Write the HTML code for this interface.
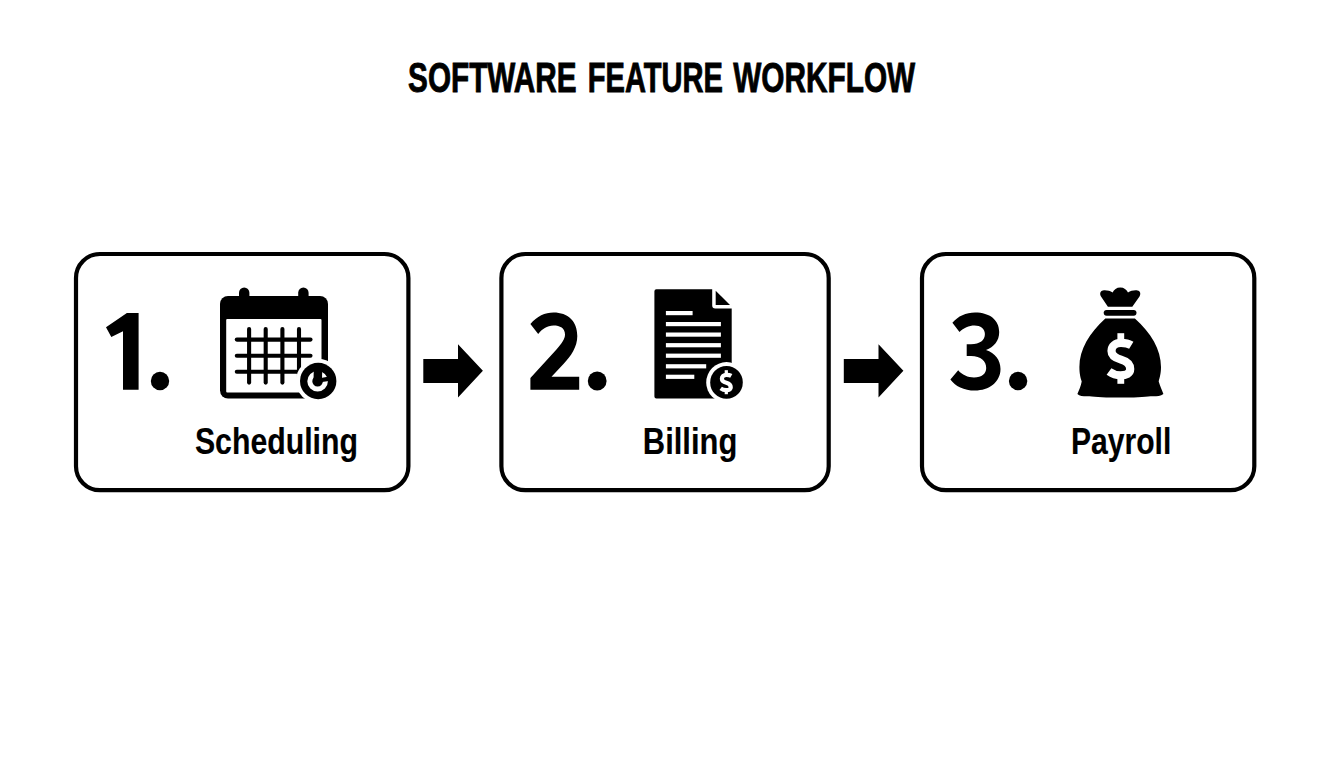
<!DOCTYPE html>
<html>
<head>
<meta charset="utf-8">
<style>
html,body{margin:0;padding:0;background:#fff;width:1344px;height:768px;overflow:hidden;}
svg{display:block;}
text{font-family:"Liberation Sans",sans-serif;font-weight:bold;fill:#000;stroke:#000;stroke-width:0.9px;}
</style>
</head>
<body>
<svg width="1344" height="768" viewBox="0 0 1344 768">
<rect x="0" y="0" width="1344" height="768" fill="#fff"/>

<!-- Title -->
<text x="408.1" y="91.8" font-size="42.6" textLength="168.4" lengthAdjust="spacingAndGlyphs">SOFTWARE</text>
<text x="587.8" y="91.8" font-size="42.6" textLength="135.1" lengthAdjust="spacingAndGlyphs">FEATURE</text>
<text x="733.2" y="91.8" font-size="42.6" textLength="182" lengthAdjust="spacingAndGlyphs">WORKFLOW</text>

<!-- Boxes -->
<g fill="none" stroke="#000" stroke-width="4.2">
  <rect x="76" y="254" width="332.4" height="236.2" rx="24" ry="24"/>
  <rect x="501.4" y="254" width="327.3" height="236.2" rx="24" ry="24"/>
  <rect x="922" y="254" width="332.3" height="236.2" rx="24" ry="24"/>
</g>

<!-- Arrows -->
<path d="M423.3 358.9 H458 V344.3 L482.9 370.8 L458 397.6 V382.9 H423.3 Z" fill="#000"/>
<path d="M843.8 358.9 H878.5 V344.3 L903.4 370.8 L878.5 397.6 V382.9 H843.8 Z" fill="#000"/>

<!-- Numbers -->
<g fill="#000">
  <path d="M126.9 313 H138.6 V389.8 H123 V331.3 L111.3 337.1 L106 327.3 Z"/>
  <circle cx="160" cy="381" r="9.2"/>
  <path d="M530.4 324 C537 316 545 312.4 553.5 312.4 C568 312.4 577.3 321 577.3 336 C577.3 347 571 356 563 364.5 L551.5 376.8 H579.2 V389.8 H530.4 V378 L556 350 C562 343 565 339 565 334.5 C565 328 560 325.4 553.5 325.4 C547 325.4 542 329 538.2 333.9 Z"/>
  <circle cx="597.2" cy="381" r="9.4"/>
  <path d="M952.4 322.8 C958 316 966 312.4 975 312.4 C990 312.4 999.2 320 999.2 332 C999.2 341 994 347 986 350 C995 353 1000.5 360 1000.5 369 C1000.5 382 989 390.5 975 390.5 C964 390.5 955 386 950.4 379.4 L958.2 370.3 C962 375 968 377.5 974 377.5 C982 377.5 986.2 373.5 986.2 368 C986.2 361 981 356 971 356 H966.7 V344.3 H971 C980 344.3 984.9 340 984.9 334 C984.9 328.5 980.5 325.4 974.5 325.4 C969 325.4 963.5 328 959.5 331.9 Z"/>
  <circle cx="1018.1" cy="381" r="9.2"/>
</g>

<!-- Labels -->
<text x="194.9" y="453.8" font-size="36.8" textLength="163.1" lengthAdjust="spacingAndGlyphs" style="stroke-width:0.15px">Scheduling</text>
<text x="642.8" y="453.6" font-size="36.8" textLength="94.5" lengthAdjust="spacingAndGlyphs" style="stroke-width:0.15px">Billing</text>
<text x="1071" y="453.6" font-size="36.8" textLength="100.3" lengthAdjust="spacingAndGlyphs" style="stroke-width:0.15px">Payroll</text>

<!-- Calendar icon -->
<g id="cal">
  <rect x="220" y="296" width="108" height="102.5" rx="8" fill="#000"/>
  <rect x="226.2" y="319" width="95.3" height="73.6" rx="1" fill="#fff"/>
  <rect x="239" y="287.6" width="10.4" height="14" rx="5.2" fill="#000"/>
  <rect x="298.2" y="287.6" width="10.4" height="14" rx="5.2" fill="#000"/>
  <g stroke="#000" stroke-width="4.1" stroke-linecap="round">
    <line x1="236.8" y1="339.6" x2="310.5" y2="339.6"/>
    <line x1="236.8" y1="355.7" x2="310.5" y2="355.7"/>
    <line x1="236.8" y1="371.8" x2="310.5" y2="371.8"/>
    <line x1="249.1" y1="329" x2="249.1" y2="382.6"/>
    <line x1="265.7" y1="329" x2="265.7" y2="382.6"/>
    <line x1="282.4" y1="329" x2="282.4" y2="382.6"/>
    <line x1="299" y1="329" x2="299" y2="382.6"/>
  </g>
  <circle cx="318.2" cy="381" r="22.3" fill="#fff"/>
  <circle cx="318.2" cy="381" r="18.2" fill="#000"/>
  <circle cx="317.6" cy="381.2" r="7.8" fill="none" stroke="#fff" stroke-width="5"/>
  <path d="M313.8 369 L322.2 369 L322 379 L318 385 L313.5 381 Z" fill="#000"/>
  <path d="M321 378 L329 376.5 L329 381 L322 382 Z" fill="#000"/>
</g>

<!-- Document icon -->
<g id="doc">
  <path d="M656 289.3 H712.2 V305.4 Q712.2 308.4 715.2 308.4 H731.7 V396.5 Q731.7 398.5 729.7 398.5 H656.4 Q654.4 398.5 654.4 396.5 V291.3 Q654.4 289.3 656.4 289.3 Z" fill="#000"/>
  <path d="M715.7 290.8 L730 305 L715.7 305 Z" fill="#000"/>
  <g fill="#fff">
    <rect x="665.9" y="311" width="26.7" height="4.2"/>
    <rect x="665.9" y="322" width="55" height="4.2"/>
    <rect x="665.9" y="332.5" width="55" height="4.2"/>
    <rect x="665.9" y="343.1" width="55" height="4.2"/>
    <rect x="665.9" y="353.6" width="55" height="4.2"/>
    <rect x="665.9" y="364.2" width="40.3" height="4.2"/>
    <rect x="665.9" y="374.7" width="28.4" height="4.2"/>
  </g>
  <circle cx="726.5" cy="382.4" r="20.3" fill="#fff"/>
  <circle cx="726.5" cy="382.4" r="16.3" fill="#000"/>
  <g transform="translate(726.1 382.2) scale(0.475) translate(-1120.4 -358.5)">
    <path d="M1131.3 345.2 C1128.5 343.5 1125 342.9 1121 342.9 C1115.5 342.9 1111.5 346 1111.5 351 C1111.5 356 1116 358.2 1121 359.6 C1126.5 361.2 1130.2 364 1130.2 369 C1130.2 373.5 1126 375.3 1120.5 375.3 C1116.5 375.3 1112.5 374 1109 371.5" fill="none" stroke="#fff" stroke-width="8.8"/>
    <rect x="1117.4" y="333.2" width="6.8" height="8" fill="#fff"/>
    <rect x="1117.4" y="375.5" width="6.8" height="8.3" fill="#fff"/>
  </g>
</g>

<!-- Money bag -->
<g id="bag" fill="#000">
  <path d="M1107.9 306.7 L1101 296.5 C1099.5 294 1100 291 1103 290.5 C1106.5 290 1110 291 1112.6 292.6 C1114 289.5 1116.5 287.5 1120.3 287.5 C1124 287.5 1126.6 289.5 1128 292.6 C1130.6 291 1134 290 1137.5 290.5 C1140.5 291 1141 294 1139.5 296.5 L1132.3 306.7 Z"/>
  <rect x="1103.7" y="309.9" width="32.8" height="5.8" rx="2.9"/>
  <path d="M1105.3 318.4 H1134.9 C1151 333 1161 349 1161 367 C1161 374 1159.5 378 1158.7 381.4 C1160 386 1162 390 1163.4 393.9 C1160 396.5 1154 396.5 1150.5 396.2 C1140 398 1100 398 1089.5 396.2 C1086 396.5 1080 396.5 1077.4 393.9 C1079 390 1081 386 1081.7 381.4 C1080.5 378 1079.4 374 1079.4 367 C1079.4 349 1089.5 333 1105.3 318.4 Z"/>
  <path d="M1131.3 345.2 C1128.5 343.5 1125 342.9 1121 342.9 C1115.5 342.9 1111.5 346 1111.5 351 C1111.5 356 1116 358.2 1121 359.6 C1126.5 361.2 1130.2 364 1130.2 369 C1130.2 373.5 1126 375.3 1120.5 375.3 C1116.5 375.3 1112.5 374 1109 371.5" fill="none" stroke="#fff" stroke-width="8.2"/>
  <rect x="1117.4" y="333.2" width="6.8" height="8" fill="#fff"/>
  <rect x="1117.4" y="375.5" width="6.8" height="8.3" fill="#fff"/>
</g>

</svg>
</body>
</html>
